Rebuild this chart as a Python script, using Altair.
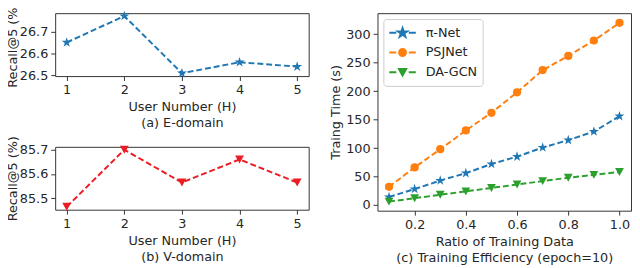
import altair as alt
import pandas as pd

# ---------------- data ----------------
users = [1, 2, 3, 4, 5]
e_recall = [26.65, 26.77, 26.51, 26.56, 26.54]
v_recall = [85.465, 85.70, 85.565, 85.66, 85.565]

ratios = [0.1, 0.2, 0.3, 0.4, 0.5, 0.6, 0.7, 0.8, 0.9, 1.0]
pinet = [14, 28, 43, 56, 72, 85, 101, 114, 129, 156]
psjnet = [32, 66, 98, 131, 162, 198, 237, 262, 289, 320]
dagcn = [6, 12, 18, 24, 30, 36, 42, 48, 53, 58]

series_names = ["π-Net", "PSJNet", "DA-GCN"]
series_colors = ["#1f77b4", "#ff7f0e", "#2ca02c"]
red = "#ec1c24"

# ---------------- shapes ----------------
def star(s=1.0):
    pts = [(0, -1), (0.2245, -0.309), (0.951, -0.309), (0.363, 0.118), (0.588, 0.809),
           (0, 0.382), (-0.588, 0.809), (-0.363, 0.118), (-0.951, -0.309), (-0.2245, -0.309)]
    return "M" + "L".join(f"{x*s:.4f},{y*s:.4f}" for x, y in pts) + "Z"

def tri(s=1.0):
    return f"M{-1*s:.4f},{-0.9*s:.4f}L{1*s:.4f},{-0.9*s:.4f}L0,{0.9*s:.4f}Z"

def circ(r):
    return f"M{r:.4f},0A{r:.4f},{r:.4f} 0 1,1 {-r:.4f},0A{r:.4f},{r:.4f} 0 1,1 {r:.4f},0Z"

DASHES = "M-1,0L-0.47,0M0.47,0L1,0"
legend_shapes = [DASHES + star(0.36), DASHES + circ(0.26), DASHES + tri(0.27)]
plot_shapes = [star(), "circle", tri()]
plot_sizes = [115, 70, 80]

FONT = "DejaVu Sans"
TXT = "#262626"
dash = [6, 3]

# ---------------- panel (a) ----------------
df_a = pd.DataFrame({"user": users, "recall": e_recall})
xa = alt.X("user:Q", scale=alt.Scale(domain=[0.8, 5.2], nice=False, zero=False),
           axis=alt.Axis(values=users, format="d", title=["User Number (H)", "(a) E-domain"]))
ya = alt.Y("recall:Q", scale=alt.Scale(domain=[26.497, 26.783], nice=False, zero=False),
           axis=alt.Axis(values=[26.5, 26.6, 26.7], format=".1f", title="Recall@5 (%)", titlePadding=-0.5))
a_line = alt.Chart(df_a).mark_line(color=series_colors[0], strokeDash=dash, strokeWidth=2).encode(x=xa, y=ya)
a_pts = alt.Chart(df_a).mark_point(shape=plot_shapes[0], filled=True, opacity=1, size=115,
                                   color=series_colors[0]).encode(x=xa, y=ya)
chart_a = alt.layer(a_line, a_pts).properties(width=258, height=64)

# ---------------- panel (b) ----------------
df_b = pd.DataFrame({"user": users, "recall": v_recall})
xb = alt.X("user:Q", scale=alt.Scale(domain=[0.8, 5.2], nice=False, zero=False),
           axis=alt.Axis(values=users, format="d", title=["User Number (H)", "(b) V-domain"]))
yb = alt.Y("recall:Q", scale=alt.Scale(domain=[85.453, 85.712], nice=False, zero=False),
           axis=alt.Axis(values=[85.5, 85.6, 85.7], format=".1f", title="Recall@5 (%)", titlePadding=-0.5))
b_line = alt.Chart(df_b).mark_line(color=red, strokeDash=dash, strokeWidth=2).encode(x=xb, y=yb)
b_pts = alt.Chart(df_b).mark_point(shape=plot_shapes[2], filled=True, opacity=1, size=80,
                                   color=red).encode(x=xb, y=yb)
chart_b = alt.layer(b_line, b_pts).properties(width=258, height=64)

# ---------------- panel (c) ----------------
rows = []
for name, vals in zip(series_names, [pinet, psjnet, dagcn]):
    for r, v in zip(ratios, vals):
        rows.append({"ratio": r, "time": v, "series": name})
df_c = pd.DataFrame(rows)

xc = alt.X("ratio:Q", scale=alt.Scale(domain=[0.055, 1.045], nice=False, zero=False),
           axis=alt.Axis(values=[0.2, 0.4, 0.6, 0.8, 1.0], format=".1f",
                         title=["Ratio of Training Data", "(c) Training Efficiency (epoch=10)"]))
yc = alt.Y("time:Q", scale=alt.Scale(domain=[-10, 337], nice=False, zero=False),
           axis=alt.Axis(values=[0, 50, 100, 150, 200, 250, 300], format="d", title="Traing Time (s)",
                         titlePadding=3))

c_layers = []
for name, col, shp, sz in zip(series_names, series_colors, plot_shapes, plot_sizes):
    base = alt.Chart(df_c).transform_filter(alt.datum.series == name)
    c_layers.append(base.mark_line(strokeDash=dash, strokeWidth=2, color=col).encode(x=xc, y=yc))
    c_layers.append(base.mark_point(filled=True, opacity=1, shape=shp, size=sz, color=col).encode(x=xc, y=yc))

stroke_expr = "".join(f"datum.value == '{n}' ? '{c}' : " for n, c in zip(series_names[:-1], series_colors[:-1])) \
    + f"'{series_colors[-1]}'"

leg = alt.Legend(title=None, orient="top-left", offset=6, symbolSize=729, symbolStrokeWidth=2,
                 symbolStrokeColor=alt.ExprRef(stroke_expr),
                 labelFont=FONT, labelFontSize=13, labelColor=TXT, fillColor="white",
                 strokeColor="#cccccc", cornerRadius=3, padding=5, rowPadding=2, clipHeight=18,
                 labelOffset=9)
c_leg = alt.Chart(df_c).transform_filter("false").mark_point(filled=True, opacity=1, strokeWidth=2).encode(
    x=xc, y=yc,
    color=alt.Color("series:N", scale=alt.Scale(domain=series_names, range=series_colors), legend=leg),
    shape=alt.Shape("series:N", scale=alt.Scale(domain=series_names, range=legend_shapes), legend=leg))

chart_c = alt.layer(*c_layers, c_leg).properties(width=258, height=201)

left = alt.vconcat(chart_a, chart_b, spacing=72, bounds="flush")
chart = alt.hconcat(left, chart_c, spacing=20).resolve_scale(
    color="independent", shape="independent"
).resolve_legend(color="independent", shape="independent").properties(
    padding={"left": -2, "top": -9, "right": 0, "bottom": 0}
).configure_view(stroke="#333333", strokeWidth=1).configure_axis(
    labelFont=FONT, labelFontSize=13, labelColor=TXT, titleFont=FONT, titleFontSize=13,
    titleFontWeight="normal", titleColor=TXT, tickColor="#333333", tickSize=4.5, labelPadding=3,
    domain=False, grid=False, titleLineHeight=16.5
).configure_axisX(titlePadding=4, labelPadding=3.5)

chart.save("out.html", embed_options={"renderer": "svg", "actions": False})
